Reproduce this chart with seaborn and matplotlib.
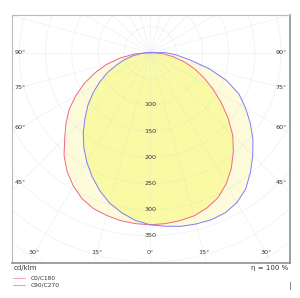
import numpy as np
import pandas as pd
import matplotlib
matplotlib.use("Agg")
import matplotlib.pyplot as plt
import seaborn as sns
from matplotlib.lines import Line2D

# ---- data (cd/klm) ----
gamma = [0, 5, 10, 15, 20, 25, 30, 35, 40, 45, 50, 55, 60, 65, 70, 75, 80, 85, 90]
c0 = [329, 328, 326, 323, 316, 306, 290, 270, 247, 223, 194, 165, 138, 113, 90, 67, 45, 25, 8]
c180 = [329, 328, 326, 322, 317, 308, 294, 277, 256, 231, 210, 189, 164, 139, 112, 86, 58, 30, 5]
c90 = [329, 333, 337, 339, 340, 338, 331, 318, 298, 277, 256, 233, 210, 187, 155, 115, 75, 50, 30]
c270 = [329, 322, 311, 298, 281, 262, 242, 221, 199, 176, 155, 133, 111, 90, 68, 50, 33, 17, 3]
series = ["C0/C180", "C90/C270"]
ring_labels = [100, 150, 200, 250, 300, 350]
side_angles = [90, 75, 60, 45]
bottom_angles = [30, 15, 0]
colors = {"C0/C180": "#f2648c", "C90/C270": "#7c7cff"}

sns.set_style("white")
plt.rcParams["font.family"] = ["DejaVu Sans"]

def curve(left, right):
    g = np.radians(np.array(gamma, dtype=float))
    L = np.array(left, dtype=float)
    R = np.array(right, dtype=float)
    x = np.concatenate([[0.0], -(L * np.sin(g))[::-1], (R * np.sin(g))[1:], [0.0]])
    y = np.concatenate([[0.0], -(L * np.cos(g))[::-1], -(R * np.cos(g))[1:], [0.0]])
    return x, y

frames = []
for name, (l, r) in zip(series, [(c180, c0), (c270, c90)]):
    x, y = curve(l, r)
    frames.append(pd.DataFrame({"x": x, "y": y, "plane": name}))
df = pd.concat(frames, ignore_index=True)

fig = plt.figure(figsize=(3.0, 2.98), dpi=100)
ax = fig.add_axes([12 / 300, 1 - 263 / 298, 278 / 300, 248 / 298])
ax.set_xlim(-264, 267)
ax.set_ylim(-402, 72)

# fills: union (pale) and intersection (bright)
ux, uy = curve(np.maximum(c180, c270), np.maximum(c0, c90))
ix, iy = curve(np.minimum(c180, c270), np.minimum(c0, c90))
ax.fill(ux, uy, color="#fdfbda", lw=0, zorder=1)
ax.fill(ix, iy, color="#fbfaa4", lw=0, zorder=1)

# polar grid
th = np.linspace(0, 2 * np.pi, 400)
gkw = dict(color="#c8d8d8", lw=0.5, alpha=0.33, zorder=2)
for r in range(50, 701, 50):
    ax.plot(r * np.cos(th), r * np.sin(th), **gkw)
for a in range(0, 360, 15):
    t = np.radians(a)
    ax.plot([0, 800 * np.sin(t)], [0, -800 * np.cos(t)], **gkw)

sns.lineplot(data=df, x="x", y="y", hue="plane", estimator=None, sort=False,
             palette=colors, lw=0.7, legend=False, ax=ax, zorder=3)

txt = dict(fontsize=4.6, color="#333333", ha="center", va="center", zorder=4)
for v in ring_labels:
    ax.text(0, -v, str(v), **txt)
for a in side_angles:
    yy = -248 / np.tan(np.radians(a)) if a != 90 else 0
    ax.text(-248, yy, f"{a}°", **txt)
    ax.text(250, yy, f"{a}°", **txt)
for a in bottom_angles:
    xx = 382.6 * np.tan(np.radians(a))
    ax.text(-xx, -382.6, f"{a}°", **txt)
    if a != 0:
        ax.text(xx, -382.6, f"{a}°", **txt)

ax.set_xticks([])
ax.set_yticks([])
ax.set_xlabel("")
ax.set_ylabel("")
for s in ["top", "left"]:
    ax.spines[s].set_color("#b4bcbc")
    ax.spines[s].set_linewidth(0.8)
for s in ["bottom", "right"]:
    ax.spines[s].set_color("#8a9090")
    ax.spines[s].set_linewidth(1.2)

fig.text(14 / 300, 1 - 268 / 298, "cd/klm", fontsize=5, color="#333333", ha="left", va="center")
fig.text(288 / 300, 1 - 268 / 298, "η = 100 %", fontsize=5, color="#333333", ha="right", va="center")
for i, name in enumerate(series):
    yy = 1 - (277.5 + 7.7 * i) / 298
    fig.add_artist(Line2D([13 / 300, 25 / 300], [yy, yy], color=colors[name], lw=0.8, alpha=0.6))
    fig.text(31 / 300, yy, name, fontsize=4.2, color="#333333", ha="left", va="center")
fig.add_artist(Line2D([290 / 300, 290 / 300], [1 - 282 / 298, 1 - 289 / 298], color="#8a9090", lw=0.8))

fig.savefig("out.png", dpi=100)
